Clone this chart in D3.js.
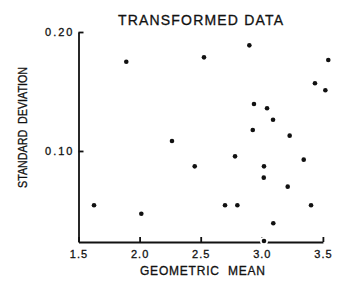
<!DOCTYPE html>
<html>
<head>
<meta charset="utf-8">
<script src="https://cdn.jsdelivr.net/npm/d3@7"></script>
<style>
  body { margin: 0; background: #fff; }
  svg { display: block; }
  text { font-family: "Liberation Sans", Arial, sans-serif; fill: #111; stroke: #111; stroke-width: 0.3px; }
</style>
</head>
<body>
<svg id="chart" width="350" height="288"></svg>
<script>
var geoMean = [1.627, 1.891, 2.014, 2.265, 2.451, 2.527, 2.699, 2.781, 2.800, 2.898,
               2.926, 2.936, 3.018, 3.016, 3.018, 3.043, 3.092, 3.094, 3.212, 3.228,
               3.343, 3.403, 3.435, 3.520, 3.544];
var stdDev  = [0.0544, 0.1750, 0.0473, 0.1084, 0.0871, 0.1787, 0.0544, 0.0955, 0.0544, 0.1888,
               0.1176, 0.1395, 0.0871, 0.0776, 0.0244, 0.1359, 0.1263, 0.0392, 0.0700, 0.1129,
               0.0927, 0.0544, 0.1569, 0.1510, 0.1765];
var xTicks = [1.5, 2.0, 2.5, 3.0, 3.5];
var yTicks = [0.10, 0.20];

var data = geoMean.map(function(d, i) { return { x: d, y: stdDev[i] }; });

var svg = d3.select("#chart");

var x = d3.scaleLinear().domain([1.5, 3.5]).range([78.5, 322.9]);
var y = d3.scaleLinear().domain([0.0235, 0.20]).range([242, 32]);

// title
svg.append("text")
    .attr("x", 200.5)
    .attr("y", 25)
    .attr("text-anchor", "middle")
    .attr("font-size", 14)
    .attr("textLength", 165)
    .attr("lengthAdjust", "spacing")
    .text("TRANSFORMED DATA");

var xAxis = svg.append("g")
    .attr("transform", "translate(0," + y.range()[0] + ")")
    .call(d3.axisBottom(x).tickValues(xTicks).tickFormat(d3.format(".1f"))
      .tickSize(-5).tickSizeOuter(0).tickPadding(8));

var yAxis = svg.append("g")
    .attr("transform", "translate(" + x.range()[0] + ",0)")
    .call(d3.axisLeft(y).tickValues(yTicks).tickFormat(d3.format(".2f"))
      .tickSize(-5).tickSizeOuter(0).tickPadding(6));

[xAxis, yAxis].forEach(function(g) {
  g.selectAll("path, line").attr("stroke", "#111").attr("stroke-width", 1.8);
  g.selectAll("text").attr("font-size", 11).attr("fill", "#111")
    .attr("font-family", "Liberation Sans, Arial, sans-serif");
});
xAxis.selectAll("text").attr("letter-spacing", 1);
yAxis.selectAll("text").attr("letter-spacing", 2).attr("dx", 2);

// axis titles
svg.append("text")
    .attr("x", 202.5)
    .attr("y", 275)
    .attr("text-anchor", "middle")
    .attr("font-size", 12)
    .attr("textLength", 125)
    .attr("lengthAdjust", "spacing")
    .attr("xml:space", "preserve")
    .text("GEOMETRIC  MEAN");

svg.append("text")
    .attr("transform", "translate(27,127.5) rotate(-90)")
    .attr("text-anchor", "middle")
    .attr("font-size", 12)
    .attr("textLength", 121)
    .attr("lengthAdjust", "spacingAndGlyphs")
    .attr("xml:space", "preserve")
    .text("STANDARD  DEVIATION");

// points: white halo first (cuts the axis line like the original), then the dot
var pts = svg.append("g");
pts.selectAll("circle.halo")
    .data(data)
  .enter().append("circle")
    .attr("class", "halo")
    .attr("cx", function(d) { return x(d.x); })
    .attr("cy", function(d) { return y(d.y); })
    .attr("r", 4)
    .attr("fill", "#fff");
pts.selectAll("circle.dot")
    .data(data)
  .enter().append("circle")
    .attr("class", "dot")
    .attr("cx", function(d) { return x(d.x); })
    .attr("cy", function(d) { return y(d.y); })
    .attr("r", 2.3)
    .attr("fill", "#111");
</script>
</body>
</html>
